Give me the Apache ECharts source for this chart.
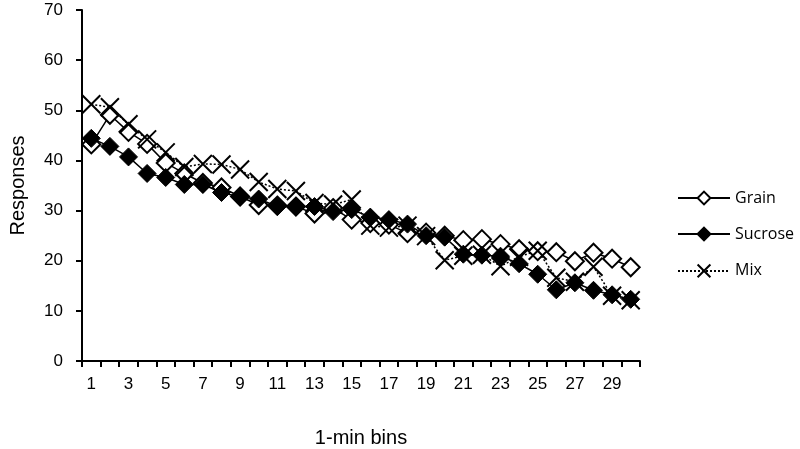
<!DOCTYPE html>
<html>
<head>
<meta charset="utf-8">
<script src="https://cdn.jsdelivr.net/npm/echarts@6/dist/echarts.min.js"></script>
<style>html,body{margin:0;padding:0;background:#fff}#c{width:800px;height:449px}</style>
</head>
<body>
<div id="c"></div>
<script>
const categories = ['1','2','3','4','5','6','7','8','9','10','11','12','13','14','15','16','17','18','19','20','21','22','23','24','25','26','27','28','29','30'];
const grain = [43.2, 49.1, 45.7, 43.3, 39.5, 37.4, 35.5, 34.6, 32.8, 31.1, 31.0, 30.8, 29.4, 30.5, 28.2, 27.5, 27.2, 25.5, 25.6, 25.0, 24.1, 24.3, 23.3, 22.3, 21.9, 21.7, 19.9, 21.6, 20.4, 18.7];
const sucrose = [44.4, 42.8, 40.7, 37.4, 36.6, 35.2, 35.2, 33.6, 32.7, 32.3, 30.8, 30.8, 30.8, 29.8, 30.2, 28.7, 28.2, 27.3, 25.0, 24.7, 21.3, 21.1, 20.9, 19.4, 17.3, 14.2, 15.6, 14.1, 13.2, 12.3];
const mix = [51.2, 50.6, 47.2, 44.2, 41.6, 38.7, 39.3, 39.2, 38.2, 35.7, 34.3, 33.9, 31.5, 31.2, 32.2, 27.0, 26.6, 27.0, 24.9, 20.1, 21.0, 21.2, 18.9, 20.8, 22.0, 16.6, 15.8, 18.8, 13.0, 12.1];
const yTicks = [0, 10, 20, 30, 40, 50, 60, 70];

const chart = echarts.init(document.getElementById('c'), null, {renderer: 'canvas'});
const font = 'Liberation Sans, Arial, sans-serif';
const xPath = 'path://M0,0L10,10M10,0L0,10';
chart.setOption({
  animation: false,
  backgroundColor: '#fff',
  grid: {left: 82, right: 160, top: 10, bottom: 88, containLabel: false, outerBoundsMode: 'none'},
  xAxis: {
    type: 'category',
    data: categories,
    boundaryGap: true,
    name: '1-min bins',
    nameLocation: 'middle',
    nameGap: 67,
    nameTextStyle: {fontFamily: font, fontSize: 20, color: '#000'},
    axisLine: {lineStyle: {color: '#000', width: 2}},
    axisTick: {show: true, inside: false, length: 6, interval: 0, lineStyle: {color: '#000', width: 2}},
    axisLabel: {interval: 1, color: '#000', fontFamily: font, fontSize: 17, margin: 15},
    splitLine: {show: false}
  },
  yAxis: {
    type: 'value',
    min: yTicks[0],
    max: yTicks[yTicks.length - 1],
    interval: 10,
    name: 'Responses',
    nameLocation: 'middle',
    nameGap: 54,
    nameTextStyle: {fontFamily: font, fontSize: 20, color: '#000'},
    axisLine: {show: true, lineStyle: {color: '#000', width: 2}},
    axisTick: {show: true, inside: false, length: 6, lineStyle: {color: '#000', width: 2}},
    axisLabel: {color: '#000', fontFamily: font, fontSize: 17, margin: 19},
    splitLine: {show: false}
  },
  legend: {
    orient: 'vertical',
    left: 672,
    top: 185,
    itemWidth: 52,
    itemHeight: 16,
    itemGap: 20,
    textStyle: {fontFamily: 'Open Sans, sans-serif', fontSize: 16, color: '#000'},
    data: ['Grain', 'Sucrose', 'Mix']
  },
  series: [
    {
      name: 'Grain', type: 'line', data: grain,
      symbol: 'diamond', symbolSize: 18, showAllSymbol: true,
      lineStyle: {color: '#000', width: 1.5, type: 'solid'},
      itemStyle: {color: '#fff', borderColor: '#000', borderWidth: 2}
    },
    {
      name: 'Sucrose', type: 'line', data: sucrose,
      symbol: 'diamond', symbolSize: 18, showAllSymbol: true,
      lineStyle: {color: '#000', width: 1.5, type: 'solid'},
      itemStyle: {color: '#000', borderColor: '#000', borderWidth: 1}
    },
    {
      name: 'Mix', type: 'line', data: mix,
      symbol: xPath, symbolSize: 18, showAllSymbol: true,
      lineStyle: {color: '#000', width: 1.5, type: [2, 2]},
      itemStyle: {color: 'none', borderColor: '#000', borderWidth: 2}
    }
  ]
});
</script>
</body>
</html>
